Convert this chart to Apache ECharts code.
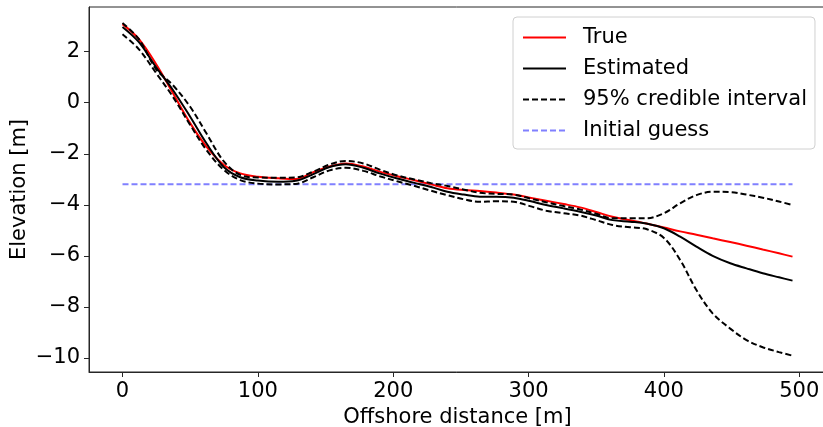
<!DOCTYPE html>
<html><head><meta charset="utf-8">
<script src="https://cdn.jsdelivr.net/npm/echarts@6/dist/echarts.min.js"></script>
<style>html,body{margin:0;padding:0;background:#fff}#c{width:823px;height:427px}</style>
</head><body><div id="c"></div>
<script>
const xs = [0,12,25,37,50,62,75,87,100,115,128,141,153,165,178,190,203,215,228,240,252,264,276,289,301,313,326,338,350,362,375,387,400,412,424,436,449,461,473,485,495];
const trueVals = [3.08,2.5,1.5,0.4,-0.8,-1.72,-2.44,-2.77,-2.9,-2.96,-2.99,-2.72,-2.5,-2.38,-2.5,-2.7,-2.88,-3.03,-3.2,-3.35,-3.42,-3.46,-3.52,-3.6,-3.72,-3.84,-3.97,-4.1,-4.28,-4.47,-4.6,-4.73,-4.89,-5.04,-5.17,-5.31,-5.46,-5.6,-5.75,-5.9,-6.03];
const estVals = [2.97,2.38,1.38,0.52,-0.55,-1.59,-2.53,-2.92,-3.05,-3.1,-3.06,-2.8,-2.52,-2.41,-2.55,-2.77,-2.97,-3.13,-3.3,-3.49,-3.6,-3.68,-3.68,-3.72,-3.85,-4.01,-4.14,-4.27,-4.42,-4.6,-4.66,-4.73,-4.92,-5.25,-5.64,-6.0,-6.29,-6.49,-6.68,-6.84,-6.97];
const upperVals = [3.12,2.5,1.3,0.7,-0.16,-1.2,-2.31,-2.83,-2.93,-2.94,-2.93,-2.7,-2.42,-2.28,-2.38,-2.62,-2.85,-3.0,-3.15,-3.26,-3.4,-3.53,-3.57,-3.6,-3.75,-3.9,-4.05,-4.18,-4.35,-4.53,-4.53,-4.53,-4.33,-3.94,-3.62,-3.49,-3.5,-3.6,-3.72,-3.87,-4.01];
const lowerVals = [2.68,2.1,1.15,0.25,-0.87,-1.85,-2.64,-3.03,-3.17,-3.2,-3.18,-2.92,-2.65,-2.55,-2.67,-2.88,-3.08,-3.25,-3.45,-3.62,-3.78,-3.88,-3.86,-3.88,-4.05,-4.23,-4.33,-4.42,-4.6,-4.79,-4.88,-4.95,-5.3,-6.16,-7.34,-8.25,-8.85,-9.3,-9.58,-9.77,-9.91];
const guessX = [0,495];
const guessVals = [-3.19,-3.19];
const xTicks = [0,100,200,300,400,500];
const yTicks = [-10,-8,-6,-4,-2,0,2];
const legendNames = ['True','Estimated','95% credible interval','Initial guess'];

const pairs = (xa, ya) => xa.map((x,i)=>[x, ya[i]]);
const fmt = v => (v < 0 ? '\u2212' + Math.abs(v) : String(v));
const FONT = 'DejaVu Sans';
const axisCol = '#262626';

const chart = echarts.init(document.getElementById('c'), null, {renderer:'canvas'});
chart.setOption({
  animation:false,
  backgroundColor:'#fff',
  textStyle:{fontFamily:FONT},
  grid:{left:89, top:7, right:-3, bottom:55, containLabel:false, outerBoundsMode:'none', show:true, borderColor:axisCol, borderWidth:1},
  xAxis:{type:'value', min:-24.75, max:519.75,
    name:'Offshore distance [m]', nameLocation:'middle', nameGap:34,
    nameTextStyle:{fontSize:21, color:'#000', fontFamily:FONT},
    axisLine:{show:true, onZero:false, lineStyle:{color:axisCol, width:1}},
    axisTick:{show:true, inside:false, length:5, customValues:xTicks, lineStyle:{color:axisCol}},
    axisLabel:{customValues:xTicks, fontSize:21, color:'#000', margin:9, fontFamily:FONT, formatter:fmt},
    splitLine:{show:false}},
  yAxis:{type:'value', min:-10.55, max:3.75,
    name:'Elevation [m]', nameLocation:'middle', nameGap:59, nameMoveOverlap:false,
    nameTextStyle:{fontSize:21, color:'#000', fontFamily:FONT},
    axisLine:{show:true, onZero:false, lineStyle:{color:axisCol, width:1}},
    axisTick:{show:true, inside:false, length:5, customValues:yTicks, lineStyle:{color:axisCol}},
    axisLabel:{customValues:yTicks, fontSize:21, color:'#000', margin:9, fontFamily:FONT, formatter:fmt},
    splitLine:{show:false}},
  legend:{show:true, orient:'vertical', left:513, top:17, data:legendNames,
    padding:[10,8,8,9], itemGap:10, itemWidth:43, itemHeight:20,
    itemStyle:{opacity:0},
    backgroundColor:'rgba(255,255,255,0.8)', borderColor:'#d0d0d0', borderWidth:1, borderRadius:4,
    textStyle:{fontSize:21, color:'#000', fontFamily:FONT, padding:[0,0,0,12]},
    selectedMode:false},
  series:[
    {name:'True', type:'line', data:pairs(xs,trueVals), showSymbol:false, symbol:'none', smooth:0.35,
      lineStyle:{color:'#ff0000', width:2}, itemStyle:{color:'#ff0000'}, z:3},
    {name:'Estimated', type:'line', data:pairs(xs,estVals), showSymbol:false, symbol:'none', smooth:0.35,
      lineStyle:{color:'#000', width:2}, itemStyle:{color:'#000'}, z:4},
    {name:'95% credible interval', type:'line', data:pairs(xs,upperVals), showSymbol:false, symbol:'none', smooth:0.35,
      lineStyle:{color:'#000', width:2, type:[6,3]}, itemStyle:{color:'#000'}, z:4},
    {name:'95% credible interval', type:'line', data:pairs(xs,lowerVals), showSymbol:false, symbol:'none', smooth:0.35,
      lineStyle:{color:'#000', width:2, type:[6,3]}, itemStyle:{color:'#000'}, z:4},
    {name:'Initial guess', type:'line', data:pairs(guessX,guessVals), showSymbol:false, symbol:'none',
      lineStyle:{color:'#8080ff', width:2, type:[6,3]}, itemStyle:{color:'#8080ff'}, z:2}
  ]
});
</script></body></html>
